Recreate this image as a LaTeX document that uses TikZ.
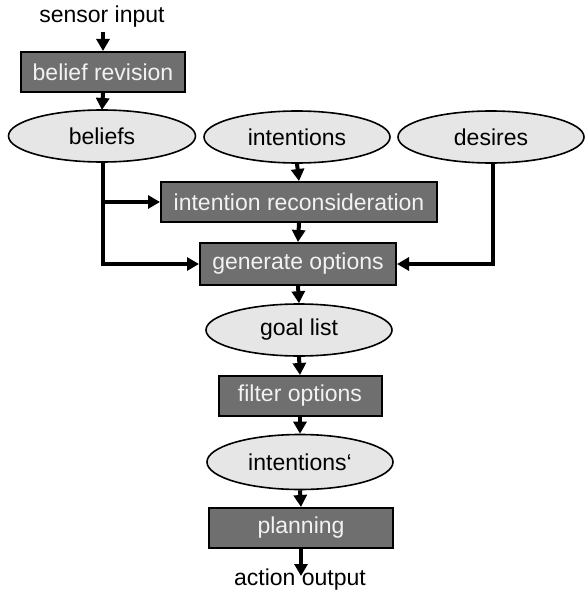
\documentclass[tikz,border=0pt]{standalone}
\usepackage{fontspec}
\setmainfont{Liberation Sans}
\usetikzlibrary{arrows.meta,shapes.geometric}
\definecolor{boxfill}{HTML}{6F6F6F}
\definecolor{boxtext}{HTML}{F2F2F2}
\definecolor{ellfill}{HTML}{E6E6E6}
\begin{document}
\begin{tikzpicture}[x=1pt,y=-1pt,
  font=\fontsize{23}{26}\selectfont,
  procbox/.style={rectangle, draw=black, line width=2pt, fill=boxfill,
    text=boxtext, inner sep=0pt, minimum height=40pt},
  store/.style={ellipse, draw=black, line width=1.6pt, fill=ellfill,
    inner sep=0pt, minimum width=186pt, minimum height=52pt},
  flow/.style={line width=4pt, -{Triangle[length=12pt,width=13pt]}},
  plain/.style={inner sep=0pt}]
\useasboundingbox (0,0) rectangle (584,594);

% inputs and outputs
\node[plain] (sensor) at (102,17) {sensor input};
\node[plain] (action) at (300,580) {action output};
\coordinate (sensorfoot) at (103,32);
\coordinate (actiontip) at (301,576);

% processing steps
\node[procbox, minimum width=164pt] (brev) at (103,72) {belief revision};
\node[procbox, minimum width=276pt] (irec) at (299,202) {intention reconsideration};
\node[procbox, minimum width=196pt, minimum height=42pt] (genopt) at (298,264) {generate options};
\node[procbox, minimum width=163pt] (filter) at (300,396) {filter options};
\node[procbox, minimum width=184pt] (plan) at (301,528) {planning};

% data stores
\node[store, minimum width=187pt] (beliefs) at (102,136) {beliefs};
\node[store] (intentions) at (297,137) {intentions};
\node[store] (desires) at (491,137) {desires};
\node[store, minimum height=52pt] (goals) at (299,330) {goal list};
\node[store, minimum height=55pt] (intents2) at (300,462) {intentions‘};

% connectors
\draw[flow] (sensorfoot) -- (brev.north);
\draw[flow] (brev.south) -- (beliefs.south |- 0,110);
\draw[flow] (intentions.south) -- (irec.north);
\draw[flow] (irec.south) -- (genopt.north);
\draw[flow] (beliefs.south) ++(1,0) coordinate (bfoot) |- (genopt.west);
\draw[flow] (bfoot |- irec.west) -- (irec.west);
\draw[flow] (desires.south) ++(2,0) |- (genopt.east);
\draw[flow] (genopt.south) -- (goals.north);
\draw[flow] (goals.south) -- (filter.north);
\draw[flow] (filter.south) -- (intents2.north);
\draw[flow] (intents2.south) -- (plan.north);
\draw[flow] (plan.south) -- (actiontip);
\end{tikzpicture}
\end{document}
